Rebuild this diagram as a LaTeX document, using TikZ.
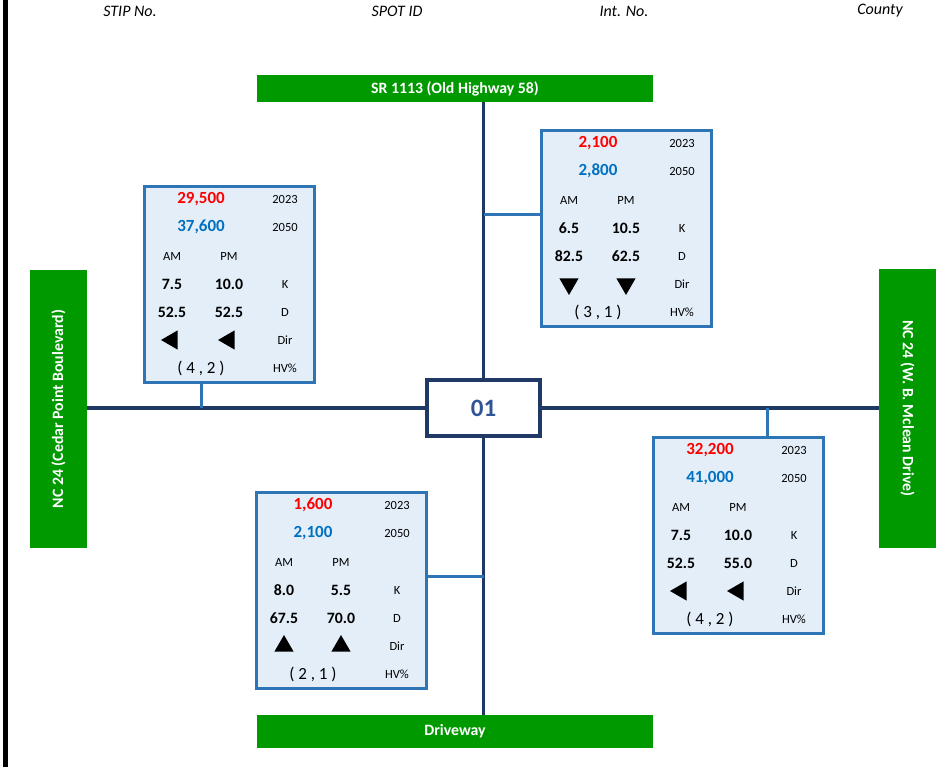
\documentclass[tikz,border=0pt]{standalone}
\usepackage{fontspec}
\setmainfont{Carlito}
\usetikzlibrary{shapes.geometric}
\definecolor{roadgreen}{HTML}{009900}
\definecolor{roadnavy}{HTML}{203864}
\definecolor{idblue}{HTML}{2F5597}
\definecolor{boxblue}{HTML}{2E75B6}
\definecolor{boxfill}{HTML}{E3EEF9}
\definecolor{cntred}{HTML}{FF0000}
\definecolor{cntblue}{HTML}{0070C0}
\tikzset{
	% ------- every something
	every node/.style={
		font=\fontsize{12.5}{14}\selectfont,
		inner sep=0pt,
	},
	% ------- custom
	header/.style={
		font=\fontsize{16}{18}\itshape\selectfont,
	},
	road/.style={
		line width=3.5pt,
		roadnavy,
	},
	roadname/.style={
		fill=roadgreen,
		text=white,
		font=\fontsize{15.8}{17}\bfseries\selectfont,
	},
	hubbox/.style={
		draw=roadnavy,
		line width=3.5pt,
		fill=white,
		minimum width=113pt,
		minimum height=56pt,
		text=idblue,
		font=\fontsize{25}{28}\bfseries\selectfont,
	},
	countbox/.style={
		draw=boxblue,
		line width=3pt,
		fill=boxfill,
		minimum width=170pt,
		minimum height=196pt,
	},
	tie/.style={
		line width=3pt,
		boxblue,
	},
	cnt/.style={
		font=\fontsize{17}{19}\bfseries\selectfont,
	},
	val/.style={
		font=\fontsize{15.8}{17}\bfseries\selectfont,
	},
	hv/.style={
		font=\fontsize{17}{19}\selectfont,
	},
	dirmark/.style={
		regular polygon,
		regular polygon sides=3,
		fill=black,
		minimum size=22pt,
	},
}

% one count box: corner, 2023, 2050, K am/pm, D am/pm, turn of arrow, HV
\newcommand{\volbox}[9]{%
	\node[countbox, anchor=north west] (#1-box) at (#1) {};
	\node[cnt, cntred]  (#1-now)  at ([shift={(58,14)}]#1)  {#2};
	\node[cnt, cntblue] (#1-fut)  at ([shift={(58,42)}]#1)  {#3};
	\node (#1-ynow) at ([shift={(142,14)}]#1) {2023};
	\node (#1-yfut) at ([shift={(142,42)}]#1) {2050};
	\node (#1-am) at ([shift={(29,71)}]#1) {AM};
	\node (#1-pm) at ([shift={(86,71)}]#1) {PM};
	\node[val] (#1-amk) at ([shift={(29,99)}]#1)  {#4};
	\node[val] (#1-pmk) at ([shift={(86,99)}]#1)  {#5};
	\node (#1-k) at ([shift={(142,99)}]#1) {K};
	\node[val] (#1-amd) at ([shift={(29,127)}]#1) {#6};
	\node[val] (#1-pmd) at ([shift={(86,127)}]#1) {#7};
	\node (#1-d) at ([shift={(142,127)}]#1) {D};
	\node[dirmark, rotate=#8] (#1-amdir) at ([shift={(29,155)}]#1) {};
	\node[dirmark, rotate=#8] (#1-pmdir) at ([shift={(86,155)}]#1) {};
	\node (#1-dir) at ([shift={(142,155)}]#1) {Dir};
	\node[hv] (#1-hvval) at ([shift={(58,183)}]#1) {#9};
	\node (#1-hv) at ([shift={(142,183)}]#1) {HV\%};
}

\begin{document}
\begin{tikzpicture}[x=1pt, y=-1pt]

	\useasboundingbox (0,0) rectangle (938,767);

% coordinates %{{{2

	\coordinate (a) at (143,185);
	\coordinate (b) at (540,129);
	\coordinate (c) at (255,491);
	\coordinate (d) at (652,436);

% frame, headers %{{{2

	\fill (3,0) rectangle (8,767);

	\node[header] (stip)   at (130,11) {STIP No.};
	\node[header] (spotid) at (397,11) {SPOT ID};
	\node[header] (intno)  at (624,11) {Int. No.};
	\node[header] (county) at (880,11) {County};

% road names %{{{2

	\node[roadname, minimum width=396pt, minimum height=27pt] (sr1113) at (455,88.5) {SR 1113 (Old Highway 58)};
	\node[roadname, minimum width=396pt, minimum height=33pt] (drive) at (455,731.5) {Driveway};
	\node[roadname, minimum width=57pt, minimum height=278pt] (cedar) at (58.5,409) {\rotatebox{90}{NC 24 (Cedar Point Boulevard)}};
	\node[roadname, minimum width=57pt, minimum height=278pt] (mclean) at (907.5,408.5) {\rotatebox{-90}{NC 24 (W. B. Mclean Drive)}};

% intersection %{{{2

	\node[hubbox] (hub) at (483.5,408) {01};

	\draw[road] (sr1113.south -| hub) -- (hub.north);
	\draw[road] (hub.south) -- (drive.north -| hub);
	\draw[road] (cedar.east |- hub) -- (hub.west);
	\draw[road] (hub.east) -- (mclean.west |- hub);

% count boxes %{{{2

	\volbox{a}{29,500}{37,600}{7.5}{10.0}{52.5}{52.5}{90}{( 4 , 2 )}
	\volbox{b}{2,100}{2,800}{6.5}{10.5}{82.5}{62.5}{180}{( 3 , 1 )}
	\volbox{c}{1,600}{2,100}{8.0}{5.5}{67.5}{70.0}{0}{( 2 , 1 )}
	\volbox{d}{32,200}{41,000}{7.5}{10.0}{52.5}{55.0}{90}{( 4 , 2 )}

% box ties %{{{2

	\draw[tie] (a-now |- a-box.south) -- (a-now |- hub);
	\draw[tie] (hub |- b-box.west) ++(0,-14) coordinate (b-tie) (b-tie) -- (b-tie -| b-box.west);
	\draw[tie] (hub |- c-box.east) ++(0,-14) coordinate (c-tie) (c-tie) -- (c-tie -| c-box.east);
	\draw[tie] (d-box.north) ++(28.5,0) coordinate (d-tie) (d-tie) -- (d-tie |- hub);

% closing %{{{2

\end{tikzpicture}
\end{document}
